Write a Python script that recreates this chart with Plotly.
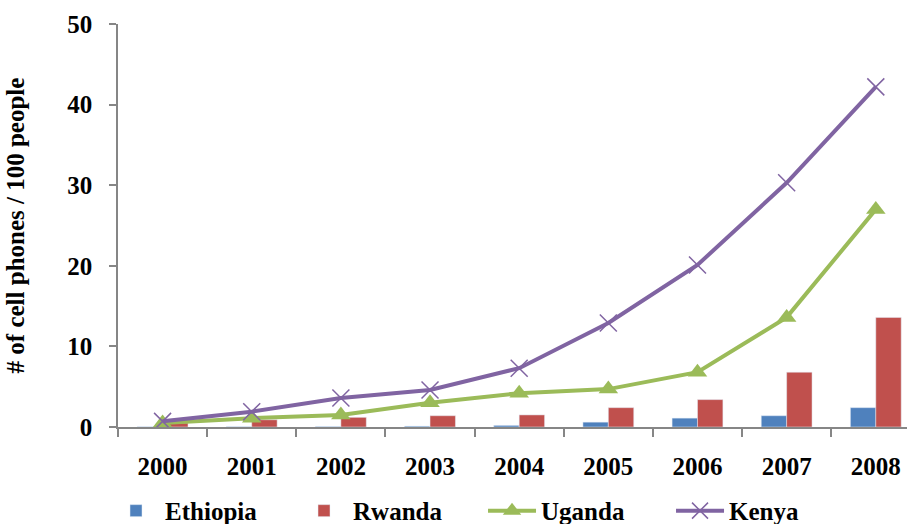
import plotly.graph_objects as go

# Mobile phone subscriptions per 100 people, East Africa
years = ["2000", "2001", "2002", "2003", "2004", "2005", "2006", "2007", "2008"]
ethiopia = [0.03, 0.04, 0.06, 0.1, 0.2, 0.6, 1.1, 1.4, 2.4]
rwanda = [0.5, 0.9, 1.2, 1.4, 1.5, 2.4, 3.4, 6.8, 13.6]
uganda = [0.5, 1.1, 1.5, 3.0, 4.2, 4.7, 6.8, 13.6, 27.0]
kenya = [0.7, 1.9, 3.6, 4.6, 7.3, 12.9, 20.1, 30.3, 42.2]
y_ticks = [0, 10, 20, 30, 40, 50]

FONT = "serif"
AXIS_GREY = "#868686"


def serif(size=25):
    return dict(family=FONT, size=size, color="black", weight="bold")


fig = go.Figure()
fig.add_trace(go.Bar(x=years, y=ethiopia, name="Ethiopia", marker_color="#4F81BD"))
fig.add_trace(go.Bar(x=years, y=rwanda, name="Rwanda", marker_color="#C0504D"))
fig.add_trace(go.Scatter(
    x=years, y=uganda, name="Uganda", mode="lines+markers",
    line=dict(color="#9BBB59", width=4),
    marker=dict(symbol="triangle-up", size=17, color="#9BBB59"),
))
fig.add_trace(go.Scatter(
    x=years, y=kenya, name="Kenya", mode="lines+markers",
    line=dict(color="#8064A2", width=4),
    marker=dict(symbol="x-thin-open", size=17, color="#8064A2",
                line=dict(color="#8064A2", width=1.5)),
))

fig.update_layout(
    width=907, height=524,
    margin=dict(l=118, r=0, t=24, b=97, autoexpand=False),
    paper_bgcolor="white", plot_bgcolor="white",
    barmode="group", bargap=0.43, bargroupgap=0,
    font=serif(),
    showlegend=True,
    legend=dict(
        orientation="h",
        xref="container", x=0.118, xanchor="left",
        yref="container", y=0.025, yanchor="middle",
        font=serif(25),
        itemwidth=48, entrywidth=125, entrywidthmode="pixels",
        traceorder="normal", bgcolor="rgba(0,0,0,0)",
    ),
)
fig.update_xaxes(
    type="category", range=[-0.5, 8.35],
    showline=True, linecolor=AXIS_GREY, linewidth=2,
    ticks="outside", tickson="boundaries", ticklen=8, tickcolor=AXIS_GREY, tickwidth=2,
    tickfont=serif(),
    ticklabelstandoff=16,
    showgrid=False, zeroline=False,
)
fig.update_yaxes(
    range=[0, 50], tickvals=y_ticks,
    showline=True, linecolor=AXIS_GREY, linewidth=1.5,
    ticks="outside", ticklen=7, tickcolor=AXIS_GREY, tickwidth=1.5,
    tickfont=serif(),
    ticklabelstandoff=12,
    showgrid=False, zeroline=False,
    title=dict(text="# of cell phones / 100 people", standoff=36, font=serif()),
)

fig.write_html("out.html")
